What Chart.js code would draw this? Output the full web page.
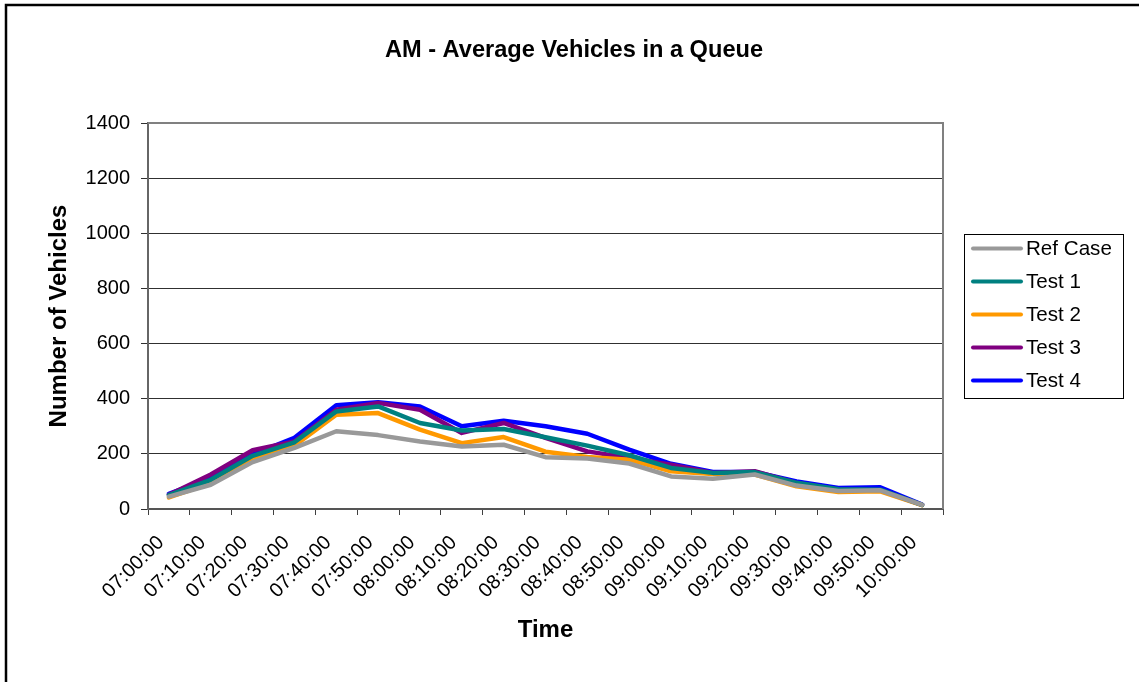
<!DOCTYPE html>
<html>
<head>
<meta charset="utf-8">
<script src="https://cdn.jsdelivr.net/npm/chart.js@4/dist/chart.umd.min.js"></script>
<style>
  html, body { margin: 0; padding: 0; background: #fff; }
  #wrap { width: 1139px; height: 682px; position: relative; }
</style>
</head>
<body>
<div id="wrap"><canvas id="queue" width="1139" height="682"></canvas></div>
<script>
// Time slots (10-minute intervals)
const times = ['07:00:00','07:10:00','07:20:00','07:30:00','07:40:00','07:50:00','08:00:00',
  '08:10:00','08:20:00','08:30:00','08:40:00','08:50:00','09:00:00','09:10:00','09:20:00',
  '09:30:00','09:40:00','09:50:00','10:00:00'];

// Average number of vehicles queued per scenario
const refCase = [45, 88, 170, 222, 282, 268, 245, 227, 233, 188, 183, 165, 118, 110, 125, 85, 65, 68, 15];
const test1   = [50, 106, 193, 242, 354, 372, 312, 285, 290, 260, 230, 195, 149, 131, 134, 95, 72, 70, 15];
const test2   = [42, 94, 180, 230, 342, 348, 288, 239, 261, 208, 189, 179, 137, 127, 125, 82, 62, 64, 14];
const test3   = [52, 125, 213, 245, 360, 385, 360, 276, 312, 258, 209, 185, 161, 131, 137, 94, 70, 68, 15];
const test4   = [55, 112, 197, 258, 376, 387, 372, 300, 320, 300, 273, 215, 164, 134, 134, 100, 76, 79, 16];

const seriesNames = ['Ref Case', 'Test 1', 'Test 2', 'Test 3', 'Test 4'];
const yTicks = [0, 200, 400, 600, 800, 1000, 1200, 1400];

const colors = ['#999999', '#008080', '#FF9900', '#800080', '#0000FF'];
const seriesData = [refCase, test1, test2, test3, test4];

const FONT = 'Arial, "Liberation Sans", Helvetica, sans-serif';

// Frame around the whole figure and border of the plot area
const framePlugin = {
  id: 'frame',
  beforeDatasetsDraw(chart) {
    const { ctx, chartArea: a } = chart;
    ctx.save();
    ctx.strokeStyle = '#808080';
    ctx.lineWidth = 2;
    ctx.beginPath();
    ctx.moveTo(a.left, a.top);
    ctx.lineTo(a.right, a.top);
    ctx.lineTo(a.right, a.bottom);
    ctx.stroke();
    ctx.restore();
  },
  afterDraw(chart) {
    const { ctx } = chart;
    ctx.save();
    ctx.strokeStyle = '#000';
    ctx.lineWidth = 2.5;
    ctx.beginPath();
    ctx.moveTo(6, 700);
    ctx.lineTo(6, 5);
    ctx.lineTo(1160, 5);
    ctx.stroke();
    ctx.restore();
  }
};

// Boxed legend to the right of the plot
const boxLegend = {
  id: 'boxLegend',
  afterDraw(chart) {
    const { ctx } = chart;
    const x0 = 964, y0 = 234, w = 159, h = 164;
    ctx.save();
    ctx.fillStyle = '#fff';
    ctx.fillRect(x0, y0, w, h);
    ctx.strokeStyle = '#000';
    ctx.lineWidth = 1;
    ctx.strokeRect(x0 + 0.5, y0 + 0.5, w, h);
    ctx.font = '20.6px ' + FONT;
    ctx.textBaseline = 'middle';
    ctx.textAlign = 'left';
    chart.data.datasets.forEach((ds, i) => {
      const y = y0 + 14.5 + i * 33;
      ctx.strokeStyle = ds.borderColor;
      ctx.lineWidth = 4;
      ctx.lineCap = 'round';
      ctx.beginPath();
      ctx.moveTo(973, y);
      ctx.lineTo(1021, y);
      ctx.stroke();
      ctx.fillStyle = '#000';
      ctx.fillText(ds.label, 1026, y + 1);
    });
    ctx.restore();
  }
};

new Chart(document.getElementById('queue'), {
  type: 'line',
  data: {
    labels: times,
    datasets: seriesNames.map((name, i) => ({
      label: name,
      data: seriesData[i],
      borderColor: colors[i],
      backgroundColor: colors[i],
      borderWidth: 4.5,
      pointRadius: 0,
      tension: 0,
      fill: false,
      borderJoinStyle: 'round',
      borderCapStyle: 'round'
    }))
  },
  options: {
    responsive: false,
    animation: false,
    events: [],
    layout: { padding: { left: 9, right: 0, top: 0, bottom: 0 } },
    plugins: {
      legend: { display: false },
      tooltip: { enabled: false },
      title: {
        display: true,
        text: 'AM - Average Vehicles in a Queue',
        color: '#000',
        font: { family: FONT, size: 23.6, weight: 'bold' },
        padding: { top: 36, bottom: 58.7 }
      }
    },
    scales: {
      x: {
        type: 'category',
        offset: true,
        afterFit(scale) { scale.height = 173; },
        grid: {
          offset: true,
          drawOnChartArea: false,
          drawTicks: true,
          tickLength: 6,
          color: '#404040',
          lineWidth: 1
        },
        border: { display: true, color: '#555', width: 2 },
        ticks: {
          autoSkip: false,
          minRotation: 45,
          maxRotation: 45,
          padding: 16,
          labelOffset: -8,
          color: '#000',
          font: { family: FONT, size: 20 }
        },
        title: {
          display: true,
          text: 'Time',
          color: '#000',
          font: { family: FONT, size: 24, weight: 'bold' },
          padding: { top: 0, bottom: 37 }
        }
      },
      y: {
        min: 0,
        max: 1400,
        afterFit(scale) { scale.width = 139; },
        afterBuildTicks(scale) { scale.ticks = yTicks.map(v => ({ value: v })); },
        grid: {
          color: '#303030',
          lineWidth: 1,
          drawTicks: true,
          tickLength: 7
        },
        border: { display: true, color: '#666', width: 2 },
        ticks: {
          padding: 11,
          color: '#000',
          font: { family: FONT, size: 20 },
          callback: (v) => String(v)
        },
        title: {
          display: true,
          text: 'Number of Vehicles',
          color: '#000',
          font: { family: FONT, size: 24, weight: 'bold' },
          padding: { top: 35.6, bottom: 0 }
        }
      },
      legendSpace: {
        type: 'linear',
        position: 'right',
        display: true,
        afterFit(scale) { scale.width = 196; },
        grid: { display: false, drawTicks: false },
        border: { display: false },
        ticks: { display: false }
      }
    }
  },
  plugins: [framePlugin, boxLegend]
});
</script>
</body>
</html>
